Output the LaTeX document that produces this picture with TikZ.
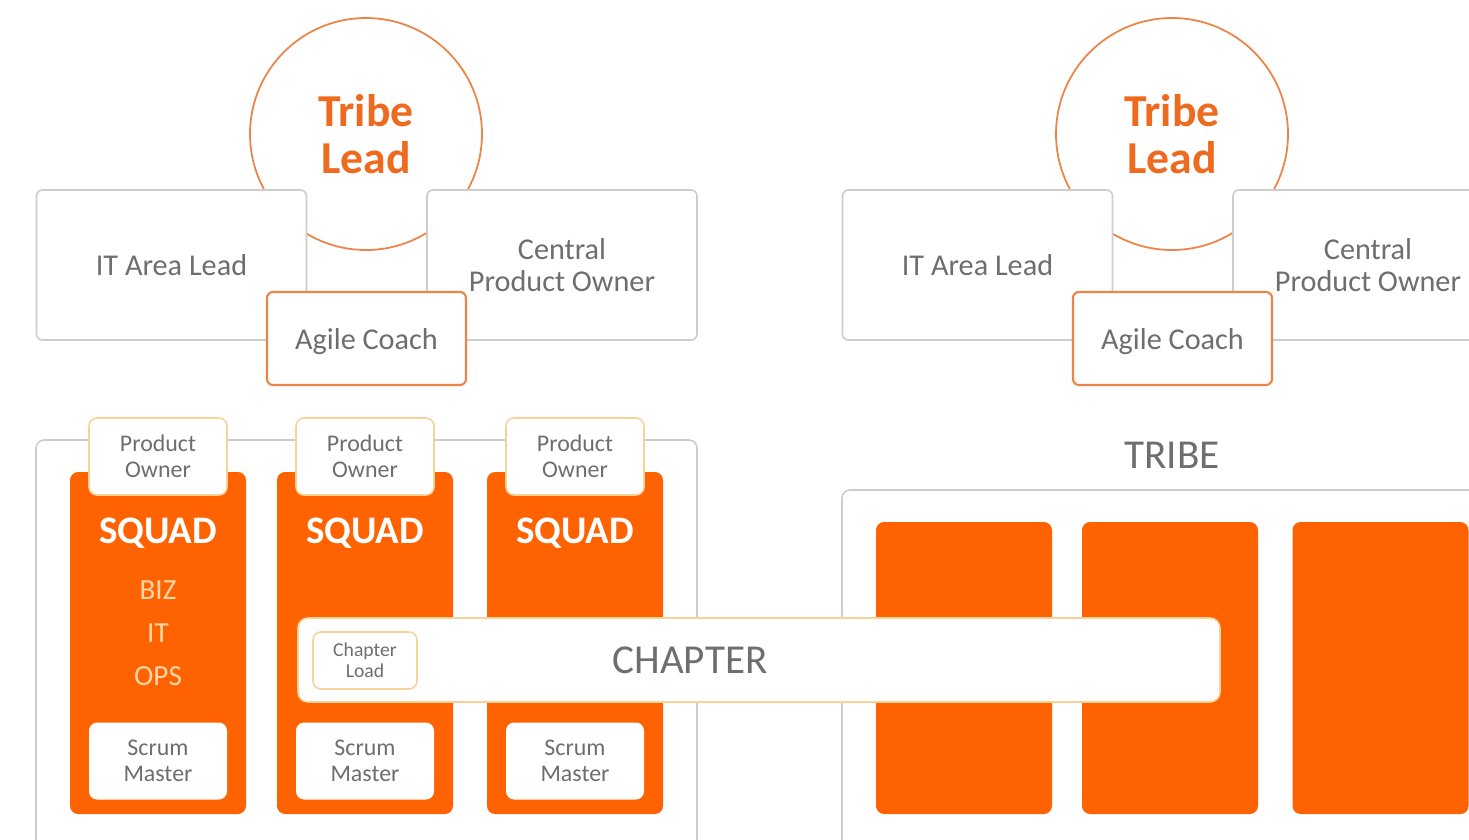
\documentclass[tikz,border=0pt]{standalone}
\usepackage{fontspec}
\setmainfont{Carlito}
\usetikzlibrary{positioning}

\definecolor{ingorange}{HTML}{FF6200}
\definecolor{leadorange}{HTML}{EE6A1E}
\definecolor{ringorange}{HTML}{EC8447}
\definecolor{boxgray}{HTML}{CDCDCD}
\definecolor{textgray}{HTML}{6E6E6E}
\definecolor{paleorange}{HTML}{F7D39A}
\definecolor{peach}{HTML}{FFD7A6}

\begin{document}
\begin{tikzpicture}[
  leadcircle/.style={circle, draw=ringorange, line width=0.5pt, fill=white,
    minimum size=2.32cm, inner sep=0pt, align=center, text=leadorange,
    font=\fontsize{13}{13.2}\selectfont\bfseries},
  rolebox/.style={draw=boxgray, line width=0.45pt, fill=white, rounded corners=1.7pt,
    minimum width=2.70cm, minimum height=1.50cm, inner sep=0pt, align=center,
    text=textgray, font=\fontsize{8.6}{9.1}\selectfont},
  coachbox/.style={rolebox, draw=ringorange, line width=0.6pt,
    minimum width=1.99cm, minimum height=0.93cm},
  frame/.style={draw=boxgray, line width=0.45pt, fill=white, rounded corners=2.3pt, inner sep=0pt},
  squad/.style={fill=ingorange, rounded corners=2.3pt, minimum width=1.76cm,
    minimum height=3.42cm, inner sep=0pt},
  block/.style={squad, minimum height=2.92cm},
  tagbox/.style={draw=paleorange, line width=0.45pt, fill=white, rounded corners=2.3pt,
    minimum width=1.38cm, minimum height=0.77cm, inner sep=0pt, align=center,
    text=textgray, font=\fontsize{6.8}{7.4}\selectfont},
  squadtitle/.style={text=white, font=\fontsize{11.1}{12}\selectfont\bfseries, inner sep=0pt},
  skills/.style={text=peach, align=center, inner sep=0pt, font=\fontsize{8.3}{12.2}\selectfont},
  bigword/.style={text=textgray, inner sep=0pt, font=\fontsize{11.7}{12}\selectfont}
]
\useasboundingbox (0,0) rectangle (14.69,-8.39);
\clip (0,0) rectangle (14.69,-8.39);

% Containers
\node[frame, minimum width=6.61cm, minimum height=4.20cm] (squads) at (3.665,-6.50) {};
\node[frame, minimum width=6.58cm, minimum height=3.70cm] (tribe) at (11.71,-6.75) {};
\node[bigword] (tribelabel) at (11.72,-4.55) {TRIBE};

% Leadership on top, twice
\foreach \g/\x in {1/0, 2/8.06} {
  \node[leadcircle] (lead\g) at (\x+3.66,-1.34) {Tribe\\Lead};
  \node[rolebox, text depth=0pt] (area\g) at (\x+1.715,-2.65) {IT Area Lead};
  \node[rolebox] (cpo\g) at (\x+5.62,-2.65) {Central\\Product Owner};
  \node[coachbox, text depth=0pt] (coach\g) at (\x+3.665,-3.385) {Agile Coach};
}

% Squads
\foreach \s/\x in {1/1.58, 2/3.65, 3/5.75} {
  \node[squad] (squad\s) at (\x,-6.43) {};
  \node[tagbox] (po\s) at (\x,-4.565) {Product\\Owner};
  \node[tagbox, draw=none] (sm\s) at (\x,-7.61) {Scrum\\Master};
  \node[squadtitle] (title\s) at (\x,-5.33) {SQUAD};
}
\node[skills] (skills) at (1.58,-6.33) {BIZ\\IT\\OPS};

% Squads inside the tribe
\foreach \b/\x in {1/9.64, 2/11.70, 3/13.805} {
  \node[block] (block\b) at (\x,-6.68) {};
}

% Chapter across the squads
\node[tagbox, minimum width=9.22cm, minimum height=0.84cm, rounded corners=2.8pt] (chapter) at (7.59,-6.60) {};
\node[bigword] (chaptertext) at (6.90,-6.60) {CHAPTER};
\node[tagbox, minimum width=1.04cm, minimum height=0.57cm, font=\fontsize{5.6}{6}\selectfont] (chlead) at (3.65,-6.605) {Chapter\\Load};

\end{tikzpicture}
\end{document}
